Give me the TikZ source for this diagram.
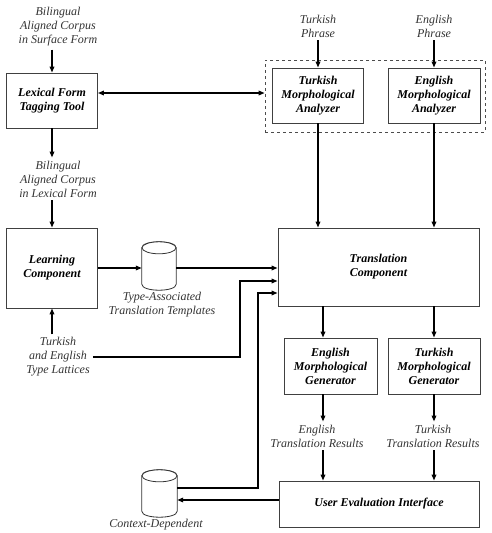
\documentclass[tikz,border=0pt]{standalone}
\usepackage{fontspec}
\setmainfont{Liberation Serif}
\usetikzlibrary{arrows.meta,calc}
\begin{document}
\begin{tikzpicture}[x=1pt,y=-1pt,
  box/.style={draw=black!75,line width=0.8pt,font=\fontsize{12}{14}\selectfont\bfseries\itshape,align=center,inner sep=0pt},
  lbl/.style={font=\fontsize{12}{14}\selectfont\itshape,text=black!80,align=center,inner sep=3pt},
  arr/.style={line width=1.5pt,-{Triangle[length=6pt,width=4.5pt]}},
  darr/.style={line width=1.5pt,{Triangle[length=6pt,width=4.5pt]}-{Triangle[length=6pt,width=4.5pt]}},
  cylbox/.style={inner sep=0pt,minimum width=34pt,minimum height=48pt},
  cylline/.style={draw=black!80,line width=0.8pt,fill=white}]
\useasboundingbox (0,0) rectangle (492,533);
% boxes
\node[box,minimum width=91pt,minimum height=55pt] (lftt) at (52,100.5) {Lexical Form\\Tagging Tool};
\node[box,minimum width=91pt,minimum height=80pt] (lc) at (52,268) {Learning\\Component};
\node[draw=black!70,dashed,line width=0.7pt,minimum width=220pt,minimum height=72pt,inner sep=0pt] (grp) at (375,96) {};
\node[box,minimum width=91pt,minimum height=55pt] (tma) at (318,95.5) {Turkish\\Morphological\\Analyzer};
\node[box,minimum width=92pt,minimum height=55pt] (ema) at (434,95.5) {English\\Morphological\\Analyzer};
\node[box,minimum width=201pt,minimum height=78pt] (tc) at (378.5,267) {Translation\\Component};
\node[box,minimum width=93pt,minimum height=56pt] (emg) at (330.5,366) {English\\Morphological\\Generator};
\node[box,minimum width=92pt,minimum height=56pt] (tmg) at (434,366) {Turkish\\Morphological\\Generator};
\node[box,minimum width=200pt,minimum height=46pt] (uei) at (379,504) {User Evaluation Interface};
% labels
\node[lbl] (src) at (58,27) {Bilingual\\Aligned Corpus\\in Surface Form};
\node[lbl] (mid) at (58,179) {Bilingual\\Aligned Corpus\\in Lexical Form};
\node[lbl] (lat) at (58,357) {Turkish\\and English\\Type Lattices};
\node[lbl] (tphr) at (318,26) {Turkish\\Phrase};
\node[lbl] (ephr) at (434,26) {English\\Phrase};
\node[lbl] (etr) at (317,436) {English\\Translation Results};
\node[lbl] (ttr) at (433,436) {Turkish\\Translation Results};
% cylinders
\node[cylbox] (cyl1) at (159,266) {};
\node[cylbox,minimum width=35pt,minimum height=47pt] (cyl2) at (159.5,493.5) {};
\foreach \c/\r in {cyl1/17pt,cyl2/17.5pt}{
  \path[cylline] ([yshift=-6pt]\c.north west) -- ([yshift=6pt]\c.south west)
    .. controls +(0pt,-8pt) and +(0pt,-8pt) .. ([yshift=6pt]\c.south east)
    -- ([yshift=-6pt]\c.north east)
    .. controls +(0pt,8pt) and +(0pt,8pt) .. ([yshift=-6pt]\c.north west) -- cycle;
  \draw[cylline] ([yshift=-6pt]\c.north) ellipse [x radius=\r,y radius=6pt];
}
\node[lbl] (tat) at (162,305) {Type-Associated\\Translation Templates};
\node[lbl] (cdl) at (156,525) {Context-Dependent};
% connectors
\draw[arr] (src.south -| lftt.north) -- (lftt.north);
\draw[arr] (lftt.south) -- (lftt.south |- mid.north);
\draw[arr] (mid.south -| lc.north) -- (lc.north);
\draw[arr] (lat.north -| lc.south) -- (lc.south);
\draw[darr] ([yshift=7.5pt]lftt.east) -- ([yshift=7.5pt]lftt.east -| grp.west);
\draw[arr] (tphr.south) -- (tma.north);
\draw[arr] (ephr.south) -- (ema.north);
\draw[arr] (tma.south) -- (tma.south |- tc.north);
\draw[arr] (ema.south) -- (ema.south |- tc.north);
\draw[arr] (lc.east) -- (lc.east -| cyl1.west);
\draw[arr] ([yshift=-2pt]cyl1.east) -- ([yshift=-2pt]cyl1.east -| tc.west);
\coordinate (j1) at (240,281);
\coordinate (j2) at (258,293);
\draw[arr] (lat.east) -| (j1) -- (j1 -| tc.west);
\draw[arr] ([yshift=5.5pt]cyl2.east) -| (j2) -- (j2 -| tc.west);
\draw[arr] ([yshift=4pt]uei.west) -- ([yshift=4pt]uei.west -| cyl2.east);
\draw[arr] ([xshift=-7.5pt]emg.north |- tc.south) -- ([xshift=-7.5pt]emg.north);
\draw[arr] (tmg.north |- tc.south) -- (tmg.north);
\draw[arr] ([xshift=-7.5pt]emg.south) -- ([xshift=-7.5pt]emg.south |- etr.north);
\draw[arr] (tmg.south) -- (tmg.south |- ttr.north);
\draw[arr] ([xshift=-7.5pt]emg.south |- etr.south) -- ([xshift=-7.5pt]emg.south |- uei.north);
\draw[arr] (tmg.south |- ttr.south) -- (tmg.south |- uei.north);
\end{tikzpicture}
\end{document}
